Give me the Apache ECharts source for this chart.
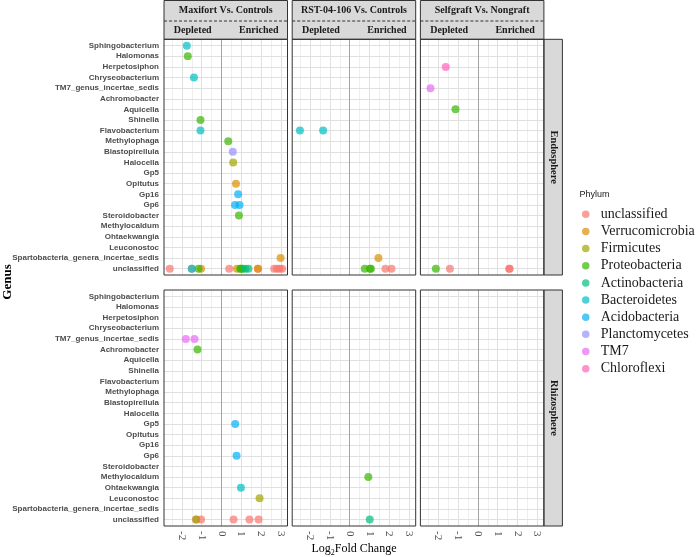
<!DOCTYPE html>
<html>
<head>
<meta charset="utf-8">
<script src="https://cdn.jsdelivr.net/npm/echarts@6/dist/echarts.min.js"></script>
<style>html,body{margin:0;padding:0;background:#fff}#c{width:696px;height:557px}</style>
</head>
<body>
<div id="c"></div>
<script>
const genera = ["Sphingobacterium","Halomonas","Herpetosiphon","Chryseobacterium","TM7_genus_incertae_sedis","Achromobacter","Aquicella","Shinella","Flavobacterium","Methylophaga","Blastopirellula","Halocella","Gp5","Opitutus","Gp16","Gp6","Steroidobacter","Methylocaldum","Ohtaekwangia","Leuconostoc","Spartobacteria_genera_incertae_sedis","unclassified"];
const phyla = ["unclassified","Verrucomicrobia","Firmicutes","Proteobacteria","Actinobacteria","Bacteroidetes","Acidobacteria","Planctomycetes","TM7","Chloroflexi"];
const phylaColors = ["#F8766D","#D89000","#A3A500","#39B600","#00BF7D","#00BFC4","#00B0F6","#9590FF","#E76BF3","#FF62BC"];
const comparisons = ["Maxifort Vs. Controls","RST-04-106 Vs. Controls","Selfgraft Vs. Nongraft"];
const compartments = ["Endosphere","Rhizosphere"];
const xTicks = [-2,-1,0,1,2,3];

const endoMaxifort = [
  ["Sphingobacterium",-1.75,"Bacteroidetes"],
  ["Halomonas",-1.70,"Proteobacteria"],
  ["Chryseobacterium",-1.39,"Bacteroidetes"],
  ["Shinella",-1.06,"Proteobacteria"],
  ["Flavobacterium",-1.06,"Bacteroidetes"],
  ["Methylophaga",0.34,"Proteobacteria"],
  ["Blastopirellula",0.57,"Planctomycetes"],
  ["Halocella",0.59,"Firmicutes"],
  ["Opitutus",0.73,"Verrucomicrobia"],
  ["Gp16",0.84,"Acidobacteria"],
  ["Gp6",0.68,"Acidobacteria"],
  ["Gp6",0.91,"Acidobacteria"],
  ["Steroidobacter",0.88,"Proteobacteria"],
  ["Spartobacteria_genera_incertae_sedis",2.98,"Verrucomicrobia"],
  ["unclassified",-2.61,"unclassified"],
  ["unclassified",-1.50,"unclassified"],
  ["unclassified",-1.50,"Bacteroidetes"],
  ["unclassified",-1.16,"Proteobacteria"],
  ["unclassified",-1.03,"Verrucomicrobia"],
  ["unclassified",0.39,"unclassified"],
  ["unclassified",0.78,"Verrucomicrobia"],
  ["unclassified",0.94,"Proteobacteria"],
  ["unclassified",1.00,"Proteobacteria"],
  ["unclassified",1.06,"Proteobacteria"],
  ["unclassified",1.21,"Actinobacteria"],
  ["unclassified",1.36,"Actinobacteria"],
  ["unclassified",1.84,"unclassified"],
  ["unclassified",1.84,"Verrucomicrobia"],
  ["unclassified",2.66,"unclassified"],
  ["unclassified",2.80,"unclassified"],
  ["unclassified",2.93,"unclassified"],
  ["unclassified",3.06,"unclassified"]
];
const endoRST = [
  ["Flavobacterium",-2.51,"Bacteroidetes"],
  ["Flavobacterium",-1.34,"Bacteroidetes"],
  ["Spartobacteria_genera_incertae_sedis",1.45,"Verrucomicrobia"],
  ["unclassified",0.76,"Proteobacteria"],
  ["unclassified",1.02,"Proteobacteria"],
  ["unclassified",1.07,"Proteobacteria"],
  ["unclassified",1.80,"unclassified"],
  ["unclassified",2.11,"unclassified"]
];
const endoSelfgraft = [
  ["Herpetosiphon",-1.62,"Chloroflexi"],
  ["TM7_genus_incertae_sedis",-2.39,"TM7"],
  ["Aquicella",-1.13,"Proteobacteria"],
  ["unclassified",-2.12,"Proteobacteria"],
  ["unclassified",-1.41,"unclassified"],
  ["unclassified",1.58,"unclassified"],
  ["unclassified",1.60,"unclassified"]
];
const rhizoMaxifort = [
  ["TM7_genus_incertae_sedis",-1.80,"TM7"],
  ["TM7_genus_incertae_sedis",-1.36,"TM7"],
  ["Achromobacter",-1.21,"Proteobacteria"],
  ["Gp5",0.69,"Acidobacteria"],
  ["Gp6",0.76,"Acidobacteria"],
  ["Ohtaekwangia",0.98,"Bacteroidetes"],
  ["Leuconostoc",1.92,"Firmicutes"],
  ["unclassified",-1.28,"unclassified"],
  ["unclassified",-1.28,"Firmicutes"],
  ["unclassified",-1.03,"unclassified"],
  ["unclassified",0.61,"unclassified"],
  ["unclassified",1.41,"unclassified"],
  ["unclassified",1.87,"unclassified"]
];
const rhizoRST = [
  ["Methylocaldum",0.94,"Proteobacteria"],
  ["unclassified",1.01,"Actinobacteria"]
];
const rhizoSelfgraft = [];

const panels = [endoMaxifort, endoRST, endoSelfgraft, rhizoMaxifort, rhizoRST, rhizoSelfgraft];

// layout
const colLeft = [164, 292.2, 420.4];
const colW = 123.5;
const rowTop = [39.3, 290];
const rowH = [235.7, 236];
const serif = "'Liberation Serif','Times New Roman',serif";
const sans = "'Liberation Sans',Arial,sans-serif";
const yIdx = genera.map((g,i)=>i);

const grids = [], xAxes = [], yAxes = [], series = [], graphics = [];
for (let r = 0; r < 2; r++) {
  for (let c = 0; c < 3; c++) {
    const p = r*3 + c;
    grids.push({left: colLeft[c], top: rowTop[r], width: colW, height: rowH[r], show: true, backgroundColor: '#fff', borderWidth: 0, containLabel: false});
    xAxes.push({
      type: 'value', gridIndex: p, min: -2.9, max: 3.33,
      axisLine: {show: false}, splitLine: {show: false},
      axisTick: {show: r === 1, length: 3, lineStyle: {color: '#333'}, customValues: xTicks},
      axisLabel: {show: r === 1, customValues: xTicks, rotate: -90, margin: 5, fontFamily: serif, fontSize: 11, color: '#4d4d4d', formatter: v => String(v)}
    });
    yAxes.push({
      type: 'value', gridIndex: p, min: -0.6, max: genera.length - 0.4, inverse: true,
      axisLine: {show: false}, splitLine: {show: false},
      axisTick: {show: c === 0, length: 3, lineStyle: {color: '#333'}, customValues: yIdx},
      axisLabel: {show: c === 0, customValues: yIdx, margin: 5, fontFamily: sans, fontWeight: 'bold', fontSize: 8, color: '#4d4d4d', formatter: v => genera[Math.round(v)] || ''}
    });
    // grid lines helper
    const ml = [];
    for (let v = -2.5; v <= 3.01; v += 0.5) {
      const major = Math.abs(v - Math.round(v)) < 1e-6;
      if (Math.abs(v) < 1e-6) continue;
      ml.push({xAxis: v, lineStyle: {color: major ? '#e0e0e0' : '#efefef', width: 1, type: 'solid'}});
    }
    yIdx.forEach(i => ml.push({yAxis: i, lineStyle: {color: '#e0e0e0', width: 1, type: 'solid'}}));
    ml.push({xAxis: 0, lineStyle: {color: '#a3a3a3', width: 1, type: 'solid'}});
    series.push({
      type: 'scatter', xAxisIndex: p, yAxisIndex: p, data: [], silent: true, z: 1,
      markLine: {silent: true, symbol: ['none','none'], label: {show: false}, z: 1, animation: false, data: ml}
    });
    phyla.forEach((ph, k) => {
      const pts = panels[p].filter(d => d[2] === ph).map(d => [d[1], genera.indexOf(d[0])]);
      series.push({
        type: 'scatter', name: ph, xAxisIndex: p, yAxisIndex: p, z: 3,
        symbol: 'circle', symbolSize: 8,
        itemStyle: {color: phylaColors[k], opacity: 0.7},
        data: pts
      });
    });
    // panel border
    graphics.push({type: 'rect', z: 100, silent: true, shape: {x: colLeft[c], y: rowTop[r], width: colW, height: rowH[r]}, style: {fill: null, stroke: '#333', lineWidth: 1}});
  }
}
// top strips
for (let c = 0; c < 3; c++) {
  const cx = colLeft[c] + colW/2;
  graphics.push({type: 'rect', z: 50, silent: true, shape: {x: colLeft[c], y: 0.5, width: colW, height: rowTop[0] - 0.5}, style: {fill: '#d9d9d9', stroke: '#333', lineWidth: 1}});
  graphics.push({type: 'line', z: 51, silent: true, shape: {x1: colLeft[c], y1: 21, x2: colLeft[c] + colW, y2: 21}, style: {stroke: '#333', lineWidth: 1, lineDash: [3, 2]}});
  graphics.push({type: 'text', z: 52, silent: true, x: cx, y: 10.5, style: {text: comparisons[c], font: 'bold 10px ' + serif, fill: '#1a1a1a', align: 'center', verticalAlign: 'middle'}});
  graphics.push({type: 'text', z: 52, silent: true, x: cx - 33, y: 30.5, style: {text: 'Depleted', font: 'bold 10px ' + serif, fill: '#1a1a1a', align: 'center', verticalAlign: 'middle'}});
  graphics.push({type: 'text', z: 52, silent: true, x: cx + 33, y: 30.5, style: {text: 'Enriched', font: 'bold 10px ' + serif, fill: '#1a1a1a', align: 'center', verticalAlign: 'middle'}});
}
// right strips
const stripX = colLeft[2] + colW;
for (let r = 0; r < 2; r++) {
  graphics.push({type: 'rect', z: 50, silent: true, shape: {x: stripX, y: rowTop[r], width: 18.5, height: rowH[r]}, style: {fill: '#d9d9d9', stroke: '#333', lineWidth: 1}});
  graphics.push({type: 'text', z: 52, silent: true, x: stripX + 9.5, y: rowTop[r] + rowH[r]/2, rotation: -Math.PI/2, style: {text: compartments[r], font: 'bold 10.5px ' + serif, fill: '#1a1a1a', align: 'center', verticalAlign: 'middle'}});
}
// axis titles
graphics.push({type: 'text', silent: true, x: 8, y: 282, rotation: Math.PI/2, style: {text: 'Genus', font: 'bold 13px ' + serif, fill: '#000', align: 'center', verticalAlign: 'middle'}});
graphics.push({type: 'text', silent: true, x: 354, y: 549, style: {text: 'Log{s|2}Fold Change', font: '12px ' + serif, fill: '#000', align: 'center', verticalAlign: 'middle', rich: {s: {fontSize: 8, fontFamily: serif, fill: '#000', padding: [7, 0, 0, 0]}}}});
// legend title
graphics.push({type: 'text', silent: true, x: 579.5, y: 195, style: {text: 'Phylum', font: '9px ' + sans, fill: '#1a1a1a', align: 'left', verticalAlign: 'middle'}});

const chart = echarts.init(document.getElementById('c'), null, {renderer: 'canvas'});
chart.setOption({
  animation: false,
  backgroundColor: '#fff',
  grid: grids, xAxis: xAxes, yAxis: yAxes, series: series,
  legend: {
    data: phyla, orient: 'vertical', left: 582, top: 207.3, padding: 0,
    itemWidth: 20, itemHeight: 7.5, itemGap: 3.15, icon: 'circle', selectedMode: false,
    textStyle: {fontFamily: serif, fontSize: 14, color: '#1a1a1a', lineHeight: 14}
  },
  graphic: graphics
});
</script>
</body>
</html>
